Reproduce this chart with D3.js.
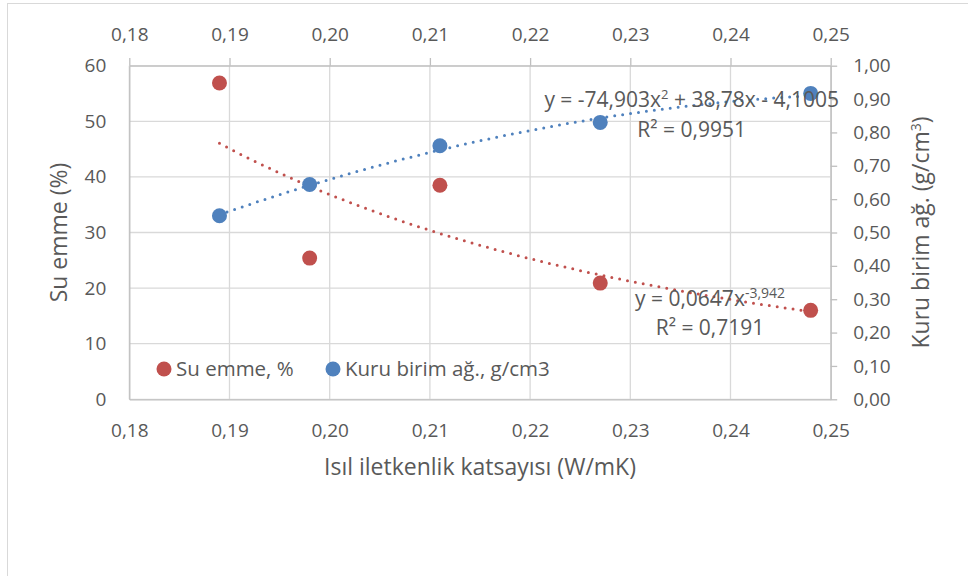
<!DOCTYPE html>
<html>
<head>
<meta charset="utf-8">
<script src="https://cdn.jsdelivr.net/npm/d3@7"></script>
<style>
  body { margin: 0; background: #fff; }
  text { font-family: "Open Sans", sans-serif; fill: #595959; }
</style>
</head>
<body>
<div class="chart"></div>
<script>
// data
var isil = [0.189, 0.198, 0.211, 0.227, 0.248];      // x, W/mK
var suEmme = [56.9, 25.4, 38.5, 20.9, 16.0];         // %, left axis
var kuruBirim = [0.550, 0.644, 0.760, 0.830, 0.917]; // g/cm3, right axis
var xTicks = [0.18, 0.19, 0.20, 0.21, 0.22, 0.23, 0.24, 0.25];
var yLeftTicks = [0, 10, 20, 30, 40, 50, 60];
var yRightTicks = [0, 0.1, 0.2, 0.3, 0.4, 0.5, 0.6, 0.7, 0.8, 0.9, 1.0];
// trendline coefficients as printed on the chart
var powerFit = [0.0647, -3.942];
var quadFit = [-74.903, 38.78, -4.1005];

var tr = d3.formatLocale({decimal: ",", thousands: ".", grouping: [3], currency: ["", ""]});
var f2 = tr.format(".2f");

var width = 968, height = 576;
var red = "#C0504D", blue = "#4F81BD";
var titleSize = 23, eqSize = 21, legSize = 20.5;

var svg = d3.select(".chart").append("svg")
    .attr("width", width)
    .attr("height", height);

// chart frame
svg.append("rect")
    .attr("x", 7.5).attr("y", 3.5)
    .attr("width", 980).attr("height", 600)
    .attr("fill", "none")
    .attr("stroke", "#d9d9d9");

var x = d3.scaleLinear().domain([0.18, 0.25]).range([129.3, 830.7]);
var yL = d3.scaleLinear().domain([0, 60]).range([399.3, 65.7]);
var yR = d3.scaleLinear().domain([0, 1]).range([399.3, 65.7]);

// grid
svg.append("g").selectAll("line").data(yLeftTicks).enter().append("line")
    .attr("x1", x(0.18)).attr("x2", x(0.25))
    .attr("y1", d => yL(d)).attr("y2", d => yL(d))
    .attr("stroke", "#d9d9d9").attr("stroke-width", 1.3);
svg.append("g").selectAll("line").data(xTicks).enter().append("line")
    .attr("x1", d => x(d)).attr("x2", d => x(d))
    .attr("y1", yL(0)).attr("y2", yL(60))
    .attr("stroke", "#d9d9d9").attr("stroke-width", 1.3);

function styleAxis(g) {
    g.select(".domain").attr("stroke", "#bfbfbf").attr("stroke-width", 1.3);
    g.selectAll(".tick line").attr("stroke", "#bfbfbf").attr("stroke-width", 1.3);
    g.selectAll(".tick text").attr("fill", "#595959")
        .style("font-family", "Open Sans").style("font-size", "19px");
}

svg.append("g").attr("transform", "translate(0," + yL(0) + ")")
    .call(d3.axisBottom(x).tickValues(xTicks).tickFormat(f2).tickSize(0).tickPadding(24))
    .call(styleAxis);
svg.append("g").attr("transform", "translate(0," + yL(60) + ")")
    .call(d3.axisTop(x).tickValues(xTicks).tickFormat(f2).tickSizeInner(7.7).tickSizeOuter(0).tickPadding(17))
    .call(styleAxis);
svg.append("g").attr("transform", "translate(" + x(0.18) + ",0)")
    .call(d3.axisLeft(yL).tickValues(yLeftTicks).tickSize(0).tickPadding(23))
    .call(styleAxis);
svg.append("g").attr("transform", "translate(" + x(0.25) + ",0)")
    .call(d3.axisRight(yR).tickValues(yRightTicks).tickFormat(f2).tickSizeInner(6.5).tickSizeOuter(0).tickPadding(16))
    .call(styleAxis);

// trendlines from the printed equations
var xs = d3.range(0, 61).map(i => isil[0] + (isil[4] - isil[0]) * i / 60);
var powLine = d3.line().x(d => x(d)).y(d => yL(powerFit[0] * Math.pow(d, powerFit[1])));
var quadLine = d3.line().x(d => x(d)).y(d => yR(quadFit[0] * d * d + quadFit[1] * d + quadFit[2]));

svg.append("path").datum(xs).attr("d", powLine)
    .attr("fill", "none").attr("stroke", red).attr("stroke-width", 3)
    .attr("stroke-linecap", "round").attr("stroke-dasharray", "0 8");
svg.append("path").datum(xs).attr("d", quadLine)
    .attr("fill", "none").attr("stroke", blue).attr("stroke-width", 3)
    .attr("stroke-linecap", "round").attr("stroke-dasharray", "0 8");

// points
svg.append("g").selectAll("circle").data(isil).enter().append("circle")
    .attr("cx", d => x(d)).attr("cy", (d, i) => yL(suEmme[i]))
    .attr("r", 7.5).attr("fill", red);
svg.append("g").selectAll("circle").data(isil).enter().append("circle")
    .attr("cx", d => x(d)).attr("cy", (d, i) => yR(kuruBirim[i]))
    .attr("r", 7.5).attr("fill", blue);

// equation labels
var eq1 = svg.append("text").attr("x", 691.7).attr("y", 107)
    .attr("text-anchor", "middle").attr("font-size", eqSize);
eq1.append("tspan").text("y = -74,903x");
eq1.append("tspan").attr("dy", -8).attr("font-size", 13).text("2");
eq1.append("tspan").attr("dy", 8).text(" + 38,78x - 4,1005");
svg.append("text").attr("x", 691.7).attr("y", 137)
    .attr("text-anchor", "middle").attr("font-size", eqSize).text("R² = 0,9951");

var eq2 = svg.append("text").attr("x", 710).attr("y", 306)
    .attr("text-anchor", "middle").attr("font-size", eqSize);
eq2.append("tspan").text("y = 0,0647x");
eq2.append("tspan").attr("dy", -8).attr("font-size", 14).text("-3,942");
svg.append("text").attr("x", 710).attr("y", 335)
    .attr("text-anchor", "middle").attr("font-size", eqSize).text("R² = 0,7191");

// legend
var legend = [{name: "Su emme, %", color: red, x: 164}, {name: "Kuru birim ağ., g/cm3", color: blue, x: 333}];
legend.forEach(function(l) {
    svg.append("circle").attr("cx", l.x).attr("cy", 369).attr("r", 7.5).attr("fill", l.color);
    svg.append("text").attr("x", l.x + 12).attr("y", 369).attr("dy", "0.35em")
        .attr("font-size", legSize).text(l.name);
});

// axis titles
svg.append("text").attr("x", 480).attr("y", 467).attr("dy", "0.35em")
    .attr("text-anchor", "middle").attr("font-size", titleSize)
    .text("Isıl iletkenlik katsayısı (W/mK)");
svg.append("text").attr("transform", "translate(59,232.5) rotate(-90)")
    .attr("dy", "0.35em").attr("text-anchor", "middle").attr("font-size", titleSize)
    .text("Su emme (%)");
var rt = svg.append("text").attr("transform", "translate(921,232.5) rotate(-90)")
    .attr("dy", "0.35em").attr("text-anchor", "middle").attr("font-size", titleSize);
rt.append("tspan").text("Kuru birim ağ. (g/cm");
rt.append("tspan").attr("dy", -8).attr("font-size", 14).text("3");
rt.append("tspan").attr("dy", 8).text(")");
</script>
</body>
</html>
